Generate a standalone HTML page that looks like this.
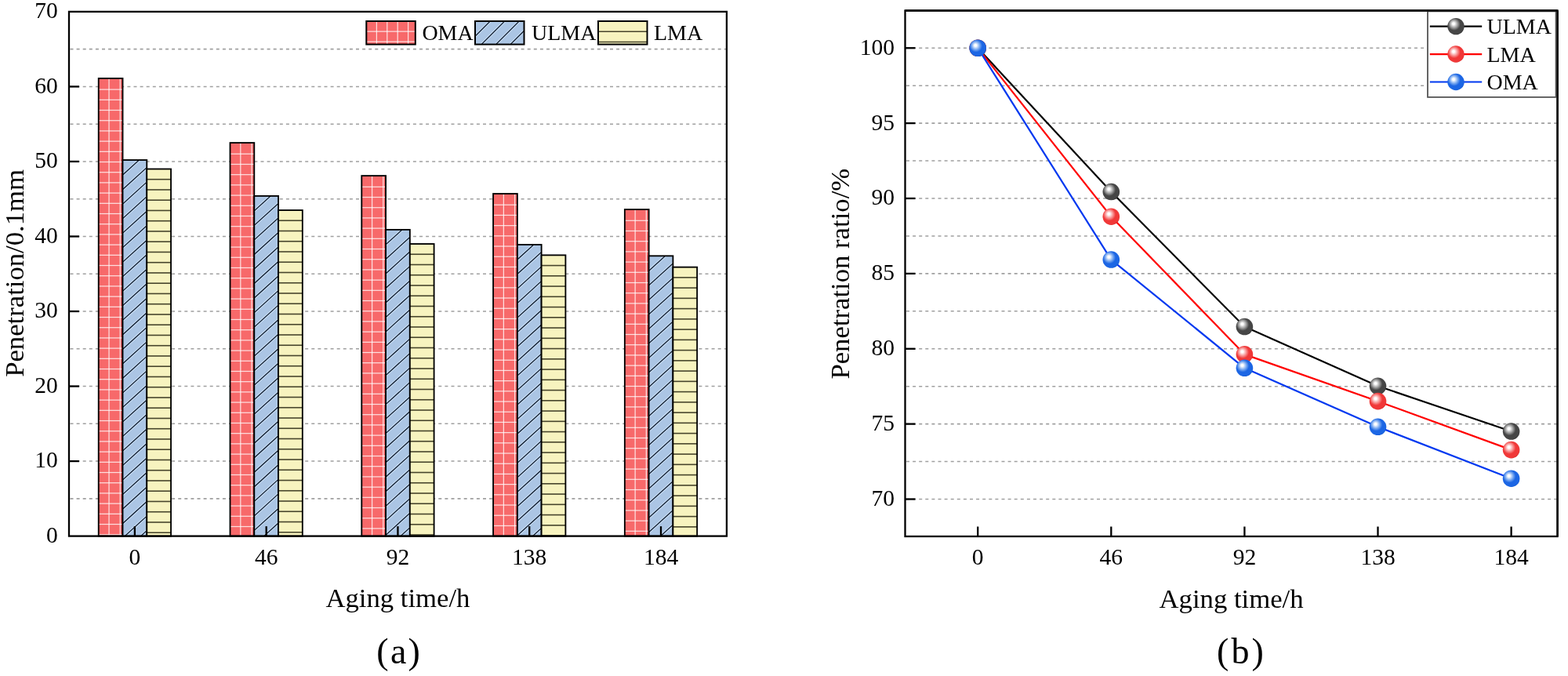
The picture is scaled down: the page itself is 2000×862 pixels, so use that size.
<!DOCTYPE html>
<html><head><meta charset="utf-8"><title>Penetration charts</title>
<style>html,body{margin:0;padding:0;background:#fff;}svg{display:block;}</style></head>
<body>
<svg width="2000" height="862" viewBox="0 0 2000 862"><defs><radialGradient id="gk" cx="0.42" cy="0.40" r="0.62" fx="0.355" fy="0.335"><stop offset="0" stop-color="#ffffff"/><stop offset="0.1" stop-color="#ffffff"/><stop offset="0.38" stop-color="#9a9a9a"/><stop offset="0.6" stop-color="#464646"/><stop offset="0.92" stop-color="#464646"/><stop offset="1" stop-color="#343434"/></radialGradient><radialGradient id="gr" cx="0.42" cy="0.40" r="0.62" fx="0.355" fy="0.335"><stop offset="0" stop-color="#ffffff"/><stop offset="0.1" stop-color="#ffffff"/><stop offset="0.38" stop-color="#f89090"/><stop offset="0.6" stop-color="#f03838"/><stop offset="0.92" stop-color="#f03838"/><stop offset="1" stop-color="#dc2a2a"/></radialGradient><radialGradient id="gb" cx="0.42" cy="0.40" r="0.62" fx="0.355" fy="0.335"><stop offset="0" stop-color="#ffffff"/><stop offset="0.1" stop-color="#ffffff"/><stop offset="0.38" stop-color="#78a8f0"/><stop offset="0.6" stop-color="#1c66e4"/><stop offset="0.92" stop-color="#1c66e4"/><stop offset="1" stop-color="#0f56d2"/></radialGradient></defs><rect width="2000" height="862" fill="#fff"/><line x1="89.5" y1="635.84" x2="925.9" y2="635.84" stroke="#a0a0a0" stroke-width="1.6" stroke-dasharray="4 4.1"/>
<line x1="89.5" y1="588.07" x2="925.9" y2="588.07" stroke="#a0a0a0" stroke-width="1.6" stroke-dasharray="4 4.1"/>
<line x1="89.5" y1="540.31" x2="925.9" y2="540.31" stroke="#a0a0a0" stroke-width="1.6" stroke-dasharray="4 4.1"/>
<line x1="89.5" y1="492.54" x2="925.9" y2="492.54" stroke="#a0a0a0" stroke-width="1.6" stroke-dasharray="4 4.1"/>
<line x1="89.5" y1="444.78" x2="925.9" y2="444.78" stroke="#a0a0a0" stroke-width="1.6" stroke-dasharray="4 4.1"/>
<line x1="89.5" y1="397.01" x2="925.9" y2="397.01" stroke="#a0a0a0" stroke-width="1.6" stroke-dasharray="4 4.1"/>
<line x1="89.5" y1="349.25" x2="925.9" y2="349.25" stroke="#a0a0a0" stroke-width="1.6" stroke-dasharray="4 4.1"/>
<line x1="89.5" y1="301.49" x2="925.9" y2="301.49" stroke="#a0a0a0" stroke-width="1.6" stroke-dasharray="4 4.1"/>
<line x1="89.5" y1="253.72" x2="925.9" y2="253.72" stroke="#a0a0a0" stroke-width="1.6" stroke-dasharray="4 4.1"/>
<line x1="89.5" y1="205.96" x2="925.9" y2="205.96" stroke="#a0a0a0" stroke-width="1.6" stroke-dasharray="4 4.1"/>
<line x1="89.5" y1="158.19" x2="925.9" y2="158.19" stroke="#a0a0a0" stroke-width="1.6" stroke-dasharray="4 4.1"/>
<line x1="89.5" y1="110.43" x2="925.9" y2="110.43" stroke="#a0a0a0" stroke-width="1.6" stroke-dasharray="4 4.1"/>
<line x1="89.5" y1="62.66" x2="925.9" y2="62.66" stroke="#a0a0a0" stroke-width="1.6" stroke-dasharray="4 4.1"/>
<rect x="125.73" y="99.92" width="30.77" height="583.68" fill="#f7696a"/>
<line x1="139.03" y1="99.92" x2="139.03" y2="683.60" stroke="#fff" stroke-opacity="0.78" stroke-width="1.25"/>
<line x1="153.23" y1="99.92" x2="153.23" y2="683.60" stroke="#fff" stroke-opacity="0.78" stroke-width="1.25"/>
<line x1="125.73" y1="114.12" x2="156.50" y2="114.12" stroke="#fff" stroke-opacity="0.78" stroke-width="1.25"/>
<line x1="125.73" y1="127.32" x2="156.50" y2="127.32" stroke="#fff" stroke-opacity="0.78" stroke-width="1.25"/>
<line x1="125.73" y1="140.52" x2="156.50" y2="140.52" stroke="#fff" stroke-opacity="0.78" stroke-width="1.25"/>
<line x1="125.73" y1="153.72" x2="156.50" y2="153.72" stroke="#fff" stroke-opacity="0.78" stroke-width="1.25"/>
<line x1="125.73" y1="166.92" x2="156.50" y2="166.92" stroke="#fff" stroke-opacity="0.78" stroke-width="1.25"/>
<line x1="125.73" y1="180.12" x2="156.50" y2="180.12" stroke="#fff" stroke-opacity="0.78" stroke-width="1.25"/>
<line x1="125.73" y1="193.32" x2="156.50" y2="193.32" stroke="#fff" stroke-opacity="0.78" stroke-width="1.25"/>
<line x1="125.73" y1="206.52" x2="156.50" y2="206.52" stroke="#fff" stroke-opacity="0.78" stroke-width="1.25"/>
<line x1="125.73" y1="219.72" x2="156.50" y2="219.72" stroke="#fff" stroke-opacity="0.78" stroke-width="1.25"/>
<line x1="125.73" y1="232.92" x2="156.50" y2="232.92" stroke="#fff" stroke-opacity="0.78" stroke-width="1.25"/>
<line x1="125.73" y1="246.12" x2="156.50" y2="246.12" stroke="#fff" stroke-opacity="0.78" stroke-width="1.25"/>
<line x1="125.73" y1="259.32" x2="156.50" y2="259.32" stroke="#fff" stroke-opacity="0.78" stroke-width="1.25"/>
<line x1="125.73" y1="272.52" x2="156.50" y2="272.52" stroke="#fff" stroke-opacity="0.78" stroke-width="1.25"/>
<line x1="125.73" y1="285.72" x2="156.50" y2="285.72" stroke="#fff" stroke-opacity="0.78" stroke-width="1.25"/>
<line x1="125.73" y1="298.92" x2="156.50" y2="298.92" stroke="#fff" stroke-opacity="0.78" stroke-width="1.25"/>
<line x1="125.73" y1="312.12" x2="156.50" y2="312.12" stroke="#fff" stroke-opacity="0.78" stroke-width="1.25"/>
<line x1="125.73" y1="325.32" x2="156.50" y2="325.32" stroke="#fff" stroke-opacity="0.78" stroke-width="1.25"/>
<line x1="125.73" y1="338.52" x2="156.50" y2="338.52" stroke="#fff" stroke-opacity="0.78" stroke-width="1.25"/>
<line x1="125.73" y1="351.72" x2="156.50" y2="351.72" stroke="#fff" stroke-opacity="0.78" stroke-width="1.25"/>
<line x1="125.73" y1="364.92" x2="156.50" y2="364.92" stroke="#fff" stroke-opacity="0.78" stroke-width="1.25"/>
<line x1="125.73" y1="378.12" x2="156.50" y2="378.12" stroke="#fff" stroke-opacity="0.78" stroke-width="1.25"/>
<line x1="125.73" y1="391.32" x2="156.50" y2="391.32" stroke="#fff" stroke-opacity="0.78" stroke-width="1.25"/>
<line x1="125.73" y1="404.52" x2="156.50" y2="404.52" stroke="#fff" stroke-opacity="0.78" stroke-width="1.25"/>
<line x1="125.73" y1="417.72" x2="156.50" y2="417.72" stroke="#fff" stroke-opacity="0.78" stroke-width="1.25"/>
<line x1="125.73" y1="430.92" x2="156.50" y2="430.92" stroke="#fff" stroke-opacity="0.78" stroke-width="1.25"/>
<line x1="125.73" y1="444.12" x2="156.50" y2="444.12" stroke="#fff" stroke-opacity="0.78" stroke-width="1.25"/>
<line x1="125.73" y1="457.32" x2="156.50" y2="457.32" stroke="#fff" stroke-opacity="0.78" stroke-width="1.25"/>
<line x1="125.73" y1="470.52" x2="156.50" y2="470.52" stroke="#fff" stroke-opacity="0.78" stroke-width="1.25"/>
<line x1="125.73" y1="483.72" x2="156.50" y2="483.72" stroke="#fff" stroke-opacity="0.78" stroke-width="1.25"/>
<line x1="125.73" y1="496.92" x2="156.50" y2="496.92" stroke="#fff" stroke-opacity="0.78" stroke-width="1.25"/>
<line x1="125.73" y1="510.12" x2="156.50" y2="510.12" stroke="#fff" stroke-opacity="0.78" stroke-width="1.25"/>
<line x1="125.73" y1="523.32" x2="156.50" y2="523.32" stroke="#fff" stroke-opacity="0.78" stroke-width="1.25"/>
<line x1="125.73" y1="536.52" x2="156.50" y2="536.52" stroke="#fff" stroke-opacity="0.78" stroke-width="1.25"/>
<line x1="125.73" y1="549.72" x2="156.50" y2="549.72" stroke="#fff" stroke-opacity="0.78" stroke-width="1.25"/>
<line x1="125.73" y1="562.92" x2="156.50" y2="562.92" stroke="#fff" stroke-opacity="0.78" stroke-width="1.25"/>
<line x1="125.73" y1="576.12" x2="156.50" y2="576.12" stroke="#fff" stroke-opacity="0.78" stroke-width="1.25"/>
<line x1="125.73" y1="589.32" x2="156.50" y2="589.32" stroke="#fff" stroke-opacity="0.78" stroke-width="1.25"/>
<line x1="125.73" y1="602.52" x2="156.50" y2="602.52" stroke="#fff" stroke-opacity="0.78" stroke-width="1.25"/>
<line x1="125.73" y1="615.72" x2="156.50" y2="615.72" stroke="#fff" stroke-opacity="0.78" stroke-width="1.25"/>
<line x1="125.73" y1="628.92" x2="156.50" y2="628.92" stroke="#fff" stroke-opacity="0.78" stroke-width="1.25"/>
<line x1="125.73" y1="642.12" x2="156.50" y2="642.12" stroke="#fff" stroke-opacity="0.78" stroke-width="1.25"/>
<line x1="125.73" y1="655.32" x2="156.50" y2="655.32" stroke="#fff" stroke-opacity="0.78" stroke-width="1.25"/>
<line x1="125.73" y1="668.52" x2="156.50" y2="668.52" stroke="#fff" stroke-opacity="0.78" stroke-width="1.25"/>
<line x1="125.73" y1="681.72" x2="156.50" y2="681.72" stroke="#fff" stroke-opacity="0.78" stroke-width="1.25"/>
<rect x="125.73" y="99.92" width="30.77" height="583.68" fill="none" stroke="#000" stroke-width="1.85"/>
<clipPath id="cULMA0"><rect x="156.50" y="204.05" width="30.77" height="479.55"/></clipPath>
<rect x="156.50" y="204.05" width="30.77" height="479.55" fill="#abc5e4"/>
<g clip-path="url(#cULMA0)" stroke="#cfe3f8" stroke-width="3.4"><line x1="155.50" y1="223.96" x2="188.28" y2="194.14"/><line x1="155.50" y1="242.48" x2="188.28" y2="212.66"/><line x1="155.50" y1="261.00" x2="188.28" y2="231.18"/><line x1="155.50" y1="279.52" x2="188.28" y2="249.70"/><line x1="155.50" y1="298.04" x2="188.28" y2="268.22"/><line x1="155.50" y1="316.56" x2="188.28" y2="286.74"/><line x1="155.50" y1="335.08" x2="188.28" y2="305.26"/><line x1="155.50" y1="353.60" x2="188.28" y2="323.78"/><line x1="155.50" y1="372.12" x2="188.28" y2="342.30"/><line x1="155.50" y1="390.64" x2="188.28" y2="360.82"/><line x1="155.50" y1="409.16" x2="188.28" y2="379.34"/><line x1="155.50" y1="427.68" x2="188.28" y2="397.86"/><line x1="155.50" y1="446.20" x2="188.28" y2="416.38"/><line x1="155.50" y1="464.72" x2="188.28" y2="434.90"/><line x1="155.50" y1="483.24" x2="188.28" y2="453.42"/><line x1="155.50" y1="501.76" x2="188.28" y2="471.94"/><line x1="155.50" y1="520.28" x2="188.28" y2="490.46"/><line x1="155.50" y1="538.80" x2="188.28" y2="508.98"/><line x1="155.50" y1="557.32" x2="188.28" y2="527.50"/><line x1="155.50" y1="575.84" x2="188.28" y2="546.02"/><line x1="155.50" y1="594.36" x2="188.28" y2="564.54"/><line x1="155.50" y1="612.88" x2="188.28" y2="583.06"/><line x1="155.50" y1="631.40" x2="188.28" y2="601.58"/><line x1="155.50" y1="649.92" x2="188.28" y2="620.10"/><line x1="155.50" y1="668.44" x2="188.28" y2="638.62"/><line x1="155.50" y1="686.96" x2="188.28" y2="657.14"/><line x1="155.50" y1="705.48" x2="188.28" y2="675.66"/></g>
<g clip-path="url(#cULMA0)" stroke="#0f1e33" stroke-width="1.35"><line x1="155.50" y1="223.96" x2="188.28" y2="194.14"/><line x1="155.50" y1="242.48" x2="188.28" y2="212.66"/><line x1="155.50" y1="261.00" x2="188.28" y2="231.18"/><line x1="155.50" y1="279.52" x2="188.28" y2="249.70"/><line x1="155.50" y1="298.04" x2="188.28" y2="268.22"/><line x1="155.50" y1="316.56" x2="188.28" y2="286.74"/><line x1="155.50" y1="335.08" x2="188.28" y2="305.26"/><line x1="155.50" y1="353.60" x2="188.28" y2="323.78"/><line x1="155.50" y1="372.12" x2="188.28" y2="342.30"/><line x1="155.50" y1="390.64" x2="188.28" y2="360.82"/><line x1="155.50" y1="409.16" x2="188.28" y2="379.34"/><line x1="155.50" y1="427.68" x2="188.28" y2="397.86"/><line x1="155.50" y1="446.20" x2="188.28" y2="416.38"/><line x1="155.50" y1="464.72" x2="188.28" y2="434.90"/><line x1="155.50" y1="483.24" x2="188.28" y2="453.42"/><line x1="155.50" y1="501.76" x2="188.28" y2="471.94"/><line x1="155.50" y1="520.28" x2="188.28" y2="490.46"/><line x1="155.50" y1="538.80" x2="188.28" y2="508.98"/><line x1="155.50" y1="557.32" x2="188.28" y2="527.50"/><line x1="155.50" y1="575.84" x2="188.28" y2="546.02"/><line x1="155.50" y1="594.36" x2="188.28" y2="564.54"/><line x1="155.50" y1="612.88" x2="188.28" y2="583.06"/><line x1="155.50" y1="631.40" x2="188.28" y2="601.58"/><line x1="155.50" y1="649.92" x2="188.28" y2="620.10"/><line x1="155.50" y1="668.44" x2="188.28" y2="638.62"/><line x1="155.50" y1="686.96" x2="188.28" y2="657.14"/><line x1="155.50" y1="705.48" x2="188.28" y2="675.66"/></g>
<rect x="156.50" y="204.05" width="30.77" height="479.55" fill="none" stroke="#000" stroke-width="1.85"/>
<rect x="187.27" y="215.51" width="30.77" height="468.09" fill="#f7f3bf"/>
<line x1="187.27" y1="228.71" x2="218.04" y2="228.71" stroke="#47452c" stroke-width="1.6"/>
<line x1="187.27" y1="241.96" x2="218.04" y2="241.96" stroke="#47452c" stroke-width="1.6"/>
<line x1="187.27" y1="255.21" x2="218.04" y2="255.21" stroke="#47452c" stroke-width="1.6"/>
<line x1="187.27" y1="268.46" x2="218.04" y2="268.46" stroke="#47452c" stroke-width="1.6"/>
<line x1="187.27" y1="281.71" x2="218.04" y2="281.71" stroke="#47452c" stroke-width="1.6"/>
<line x1="187.27" y1="294.96" x2="218.04" y2="294.96" stroke="#47452c" stroke-width="1.6"/>
<line x1="187.27" y1="308.21" x2="218.04" y2="308.21" stroke="#47452c" stroke-width="1.6"/>
<line x1="187.27" y1="321.46" x2="218.04" y2="321.46" stroke="#47452c" stroke-width="1.6"/>
<line x1="187.27" y1="334.71" x2="218.04" y2="334.71" stroke="#47452c" stroke-width="1.6"/>
<line x1="187.27" y1="347.96" x2="218.04" y2="347.96" stroke="#47452c" stroke-width="1.6"/>
<line x1="187.27" y1="361.21" x2="218.04" y2="361.21" stroke="#47452c" stroke-width="1.6"/>
<line x1="187.27" y1="374.46" x2="218.04" y2="374.46" stroke="#47452c" stroke-width="1.6"/>
<line x1="187.27" y1="387.71" x2="218.04" y2="387.71" stroke="#47452c" stroke-width="1.6"/>
<line x1="187.27" y1="400.96" x2="218.04" y2="400.96" stroke="#47452c" stroke-width="1.6"/>
<line x1="187.27" y1="414.21" x2="218.04" y2="414.21" stroke="#47452c" stroke-width="1.6"/>
<line x1="187.27" y1="427.46" x2="218.04" y2="427.46" stroke="#47452c" stroke-width="1.6"/>
<line x1="187.27" y1="440.71" x2="218.04" y2="440.71" stroke="#47452c" stroke-width="1.6"/>
<line x1="187.27" y1="453.96" x2="218.04" y2="453.96" stroke="#47452c" stroke-width="1.6"/>
<line x1="187.27" y1="467.21" x2="218.04" y2="467.21" stroke="#47452c" stroke-width="1.6"/>
<line x1="187.27" y1="480.46" x2="218.04" y2="480.46" stroke="#47452c" stroke-width="1.6"/>
<line x1="187.27" y1="493.71" x2="218.04" y2="493.71" stroke="#47452c" stroke-width="1.6"/>
<line x1="187.27" y1="506.96" x2="218.04" y2="506.96" stroke="#47452c" stroke-width="1.6"/>
<line x1="187.27" y1="520.21" x2="218.04" y2="520.21" stroke="#47452c" stroke-width="1.6"/>
<line x1="187.27" y1="533.46" x2="218.04" y2="533.46" stroke="#47452c" stroke-width="1.6"/>
<line x1="187.27" y1="546.71" x2="218.04" y2="546.71" stroke="#47452c" stroke-width="1.6"/>
<line x1="187.27" y1="559.96" x2="218.04" y2="559.96" stroke="#47452c" stroke-width="1.6"/>
<line x1="187.27" y1="573.21" x2="218.04" y2="573.21" stroke="#47452c" stroke-width="1.6"/>
<line x1="187.27" y1="586.46" x2="218.04" y2="586.46" stroke="#47452c" stroke-width="1.6"/>
<line x1="187.27" y1="599.71" x2="218.04" y2="599.71" stroke="#47452c" stroke-width="1.6"/>
<line x1="187.27" y1="612.96" x2="218.04" y2="612.96" stroke="#47452c" stroke-width="1.6"/>
<line x1="187.27" y1="626.21" x2="218.04" y2="626.21" stroke="#47452c" stroke-width="1.6"/>
<line x1="187.27" y1="639.46" x2="218.04" y2="639.46" stroke="#47452c" stroke-width="1.6"/>
<line x1="187.27" y1="652.71" x2="218.04" y2="652.71" stroke="#47452c" stroke-width="1.6"/>
<line x1="187.27" y1="665.96" x2="218.04" y2="665.96" stroke="#47452c" stroke-width="1.6"/>
<line x1="187.27" y1="679.21" x2="218.04" y2="679.21" stroke="#47452c" stroke-width="1.6"/>
<rect x="187.27" y="215.51" width="30.77" height="468.09" fill="none" stroke="#000" stroke-width="1.85"/>
<rect x="293.51" y="182.08" width="30.77" height="501.52" fill="#f7696a"/>
<line x1="306.81" y1="182.08" x2="306.81" y2="683.60" stroke="#fff" stroke-opacity="0.78" stroke-width="1.25"/>
<line x1="321.01" y1="182.08" x2="321.01" y2="683.60" stroke="#fff" stroke-opacity="0.78" stroke-width="1.25"/>
<line x1="293.51" y1="196.28" x2="324.28" y2="196.28" stroke="#fff" stroke-opacity="0.78" stroke-width="1.25"/>
<line x1="293.51" y1="209.48" x2="324.28" y2="209.48" stroke="#fff" stroke-opacity="0.78" stroke-width="1.25"/>
<line x1="293.51" y1="222.68" x2="324.28" y2="222.68" stroke="#fff" stroke-opacity="0.78" stroke-width="1.25"/>
<line x1="293.51" y1="235.88" x2="324.28" y2="235.88" stroke="#fff" stroke-opacity="0.78" stroke-width="1.25"/>
<line x1="293.51" y1="249.07" x2="324.28" y2="249.07" stroke="#fff" stroke-opacity="0.78" stroke-width="1.25"/>
<line x1="293.51" y1="262.27" x2="324.28" y2="262.27" stroke="#fff" stroke-opacity="0.78" stroke-width="1.25"/>
<line x1="293.51" y1="275.47" x2="324.28" y2="275.47" stroke="#fff" stroke-opacity="0.78" stroke-width="1.25"/>
<line x1="293.51" y1="288.67" x2="324.28" y2="288.67" stroke="#fff" stroke-opacity="0.78" stroke-width="1.25"/>
<line x1="293.51" y1="301.87" x2="324.28" y2="301.87" stroke="#fff" stroke-opacity="0.78" stroke-width="1.25"/>
<line x1="293.51" y1="315.07" x2="324.28" y2="315.07" stroke="#fff" stroke-opacity="0.78" stroke-width="1.25"/>
<line x1="293.51" y1="328.27" x2="324.28" y2="328.27" stroke="#fff" stroke-opacity="0.78" stroke-width="1.25"/>
<line x1="293.51" y1="341.47" x2="324.28" y2="341.47" stroke="#fff" stroke-opacity="0.78" stroke-width="1.25"/>
<line x1="293.51" y1="354.67" x2="324.28" y2="354.67" stroke="#fff" stroke-opacity="0.78" stroke-width="1.25"/>
<line x1="293.51" y1="367.87" x2="324.28" y2="367.87" stroke="#fff" stroke-opacity="0.78" stroke-width="1.25"/>
<line x1="293.51" y1="381.07" x2="324.28" y2="381.07" stroke="#fff" stroke-opacity="0.78" stroke-width="1.25"/>
<line x1="293.51" y1="394.27" x2="324.28" y2="394.27" stroke="#fff" stroke-opacity="0.78" stroke-width="1.25"/>
<line x1="293.51" y1="407.47" x2="324.28" y2="407.47" stroke="#fff" stroke-opacity="0.78" stroke-width="1.25"/>
<line x1="293.51" y1="420.67" x2="324.28" y2="420.67" stroke="#fff" stroke-opacity="0.78" stroke-width="1.25"/>
<line x1="293.51" y1="433.87" x2="324.28" y2="433.87" stroke="#fff" stroke-opacity="0.78" stroke-width="1.25"/>
<line x1="293.51" y1="447.07" x2="324.28" y2="447.07" stroke="#fff" stroke-opacity="0.78" stroke-width="1.25"/>
<line x1="293.51" y1="460.27" x2="324.28" y2="460.27" stroke="#fff" stroke-opacity="0.78" stroke-width="1.25"/>
<line x1="293.51" y1="473.47" x2="324.28" y2="473.47" stroke="#fff" stroke-opacity="0.78" stroke-width="1.25"/>
<line x1="293.51" y1="486.67" x2="324.28" y2="486.67" stroke="#fff" stroke-opacity="0.78" stroke-width="1.25"/>
<line x1="293.51" y1="499.87" x2="324.28" y2="499.87" stroke="#fff" stroke-opacity="0.78" stroke-width="1.25"/>
<line x1="293.51" y1="513.07" x2="324.28" y2="513.07" stroke="#fff" stroke-opacity="0.78" stroke-width="1.25"/>
<line x1="293.51" y1="526.27" x2="324.28" y2="526.27" stroke="#fff" stroke-opacity="0.78" stroke-width="1.25"/>
<line x1="293.51" y1="539.47" x2="324.28" y2="539.47" stroke="#fff" stroke-opacity="0.78" stroke-width="1.25"/>
<line x1="293.51" y1="552.67" x2="324.28" y2="552.67" stroke="#fff" stroke-opacity="0.78" stroke-width="1.25"/>
<line x1="293.51" y1="565.88" x2="324.28" y2="565.88" stroke="#fff" stroke-opacity="0.78" stroke-width="1.25"/>
<line x1="293.51" y1="579.08" x2="324.28" y2="579.08" stroke="#fff" stroke-opacity="0.78" stroke-width="1.25"/>
<line x1="293.51" y1="592.28" x2="324.28" y2="592.28" stroke="#fff" stroke-opacity="0.78" stroke-width="1.25"/>
<line x1="293.51" y1="605.48" x2="324.28" y2="605.48" stroke="#fff" stroke-opacity="0.78" stroke-width="1.25"/>
<line x1="293.51" y1="618.68" x2="324.28" y2="618.68" stroke="#fff" stroke-opacity="0.78" stroke-width="1.25"/>
<line x1="293.51" y1="631.88" x2="324.28" y2="631.88" stroke="#fff" stroke-opacity="0.78" stroke-width="1.25"/>
<line x1="293.51" y1="645.08" x2="324.28" y2="645.08" stroke="#fff" stroke-opacity="0.78" stroke-width="1.25"/>
<line x1="293.51" y1="658.28" x2="324.28" y2="658.28" stroke="#fff" stroke-opacity="0.78" stroke-width="1.25"/>
<line x1="293.51" y1="671.48" x2="324.28" y2="671.48" stroke="#fff" stroke-opacity="0.78" stroke-width="1.25"/>
<rect x="293.51" y="182.08" width="30.77" height="501.52" fill="none" stroke="#000" stroke-width="1.85"/>
<clipPath id="cULMA1"><rect x="324.28" y="249.90" width="30.77" height="433.70"/></clipPath>
<rect x="324.28" y="249.90" width="30.77" height="433.70" fill="#abc5e4"/>
<g clip-path="url(#cULMA1)" stroke="#cfe3f8" stroke-width="3.4"><line x1="323.28" y1="269.81" x2="356.05" y2="239.99"/><line x1="323.28" y1="288.33" x2="356.05" y2="258.51"/><line x1="323.28" y1="306.85" x2="356.05" y2="277.03"/><line x1="323.28" y1="325.37" x2="356.05" y2="295.55"/><line x1="323.28" y1="343.89" x2="356.05" y2="314.07"/><line x1="323.28" y1="362.41" x2="356.05" y2="332.59"/><line x1="323.28" y1="380.93" x2="356.05" y2="351.11"/><line x1="323.28" y1="399.45" x2="356.05" y2="369.63"/><line x1="323.28" y1="417.97" x2="356.05" y2="388.15"/><line x1="323.28" y1="436.49" x2="356.05" y2="406.67"/><line x1="323.28" y1="455.01" x2="356.05" y2="425.19"/><line x1="323.28" y1="473.53" x2="356.05" y2="443.71"/><line x1="323.28" y1="492.05" x2="356.05" y2="462.23"/><line x1="323.28" y1="510.57" x2="356.05" y2="480.75"/><line x1="323.28" y1="529.09" x2="356.05" y2="499.27"/><line x1="323.28" y1="547.61" x2="356.05" y2="517.79"/><line x1="323.28" y1="566.13" x2="356.05" y2="536.31"/><line x1="323.28" y1="584.65" x2="356.05" y2="554.83"/><line x1="323.28" y1="603.17" x2="356.05" y2="573.35"/><line x1="323.28" y1="621.69" x2="356.05" y2="591.87"/><line x1="323.28" y1="640.21" x2="356.05" y2="610.39"/><line x1="323.28" y1="658.73" x2="356.05" y2="628.91"/><line x1="323.28" y1="677.25" x2="356.05" y2="647.43"/><line x1="323.28" y1="695.77" x2="356.05" y2="665.95"/></g>
<g clip-path="url(#cULMA1)" stroke="#0f1e33" stroke-width="1.35"><line x1="323.28" y1="269.81" x2="356.05" y2="239.99"/><line x1="323.28" y1="288.33" x2="356.05" y2="258.51"/><line x1="323.28" y1="306.85" x2="356.05" y2="277.03"/><line x1="323.28" y1="325.37" x2="356.05" y2="295.55"/><line x1="323.28" y1="343.89" x2="356.05" y2="314.07"/><line x1="323.28" y1="362.41" x2="356.05" y2="332.59"/><line x1="323.28" y1="380.93" x2="356.05" y2="351.11"/><line x1="323.28" y1="399.45" x2="356.05" y2="369.63"/><line x1="323.28" y1="417.97" x2="356.05" y2="388.15"/><line x1="323.28" y1="436.49" x2="356.05" y2="406.67"/><line x1="323.28" y1="455.01" x2="356.05" y2="425.19"/><line x1="323.28" y1="473.53" x2="356.05" y2="443.71"/><line x1="323.28" y1="492.05" x2="356.05" y2="462.23"/><line x1="323.28" y1="510.57" x2="356.05" y2="480.75"/><line x1="323.28" y1="529.09" x2="356.05" y2="499.27"/><line x1="323.28" y1="547.61" x2="356.05" y2="517.79"/><line x1="323.28" y1="566.13" x2="356.05" y2="536.31"/><line x1="323.28" y1="584.65" x2="356.05" y2="554.83"/><line x1="323.28" y1="603.17" x2="356.05" y2="573.35"/><line x1="323.28" y1="621.69" x2="356.05" y2="591.87"/><line x1="323.28" y1="640.21" x2="356.05" y2="610.39"/><line x1="323.28" y1="658.73" x2="356.05" y2="628.91"/><line x1="323.28" y1="677.25" x2="356.05" y2="647.43"/><line x1="323.28" y1="695.77" x2="356.05" y2="665.95"/></g>
<rect x="324.28" y="249.90" width="30.77" height="433.70" fill="none" stroke="#000" stroke-width="1.85"/>
<rect x="355.06" y="268.05" width="30.77" height="415.55" fill="#f7f3bf"/>
<line x1="355.06" y1="281.25" x2="385.82" y2="281.25" stroke="#47452c" stroke-width="1.6"/>
<line x1="355.06" y1="294.50" x2="385.82" y2="294.50" stroke="#47452c" stroke-width="1.6"/>
<line x1="355.06" y1="307.75" x2="385.82" y2="307.75" stroke="#47452c" stroke-width="1.6"/>
<line x1="355.06" y1="321.00" x2="385.82" y2="321.00" stroke="#47452c" stroke-width="1.6"/>
<line x1="355.06" y1="334.25" x2="385.82" y2="334.25" stroke="#47452c" stroke-width="1.6"/>
<line x1="355.06" y1="347.50" x2="385.82" y2="347.50" stroke="#47452c" stroke-width="1.6"/>
<line x1="355.06" y1="360.75" x2="385.82" y2="360.75" stroke="#47452c" stroke-width="1.6"/>
<line x1="355.06" y1="374.00" x2="385.82" y2="374.00" stroke="#47452c" stroke-width="1.6"/>
<line x1="355.06" y1="387.25" x2="385.82" y2="387.25" stroke="#47452c" stroke-width="1.6"/>
<line x1="355.06" y1="400.50" x2="385.82" y2="400.50" stroke="#47452c" stroke-width="1.6"/>
<line x1="355.06" y1="413.75" x2="385.82" y2="413.75" stroke="#47452c" stroke-width="1.6"/>
<line x1="355.06" y1="427.00" x2="385.82" y2="427.00" stroke="#47452c" stroke-width="1.6"/>
<line x1="355.06" y1="440.25" x2="385.82" y2="440.25" stroke="#47452c" stroke-width="1.6"/>
<line x1="355.06" y1="453.50" x2="385.82" y2="453.50" stroke="#47452c" stroke-width="1.6"/>
<line x1="355.06" y1="466.75" x2="385.82" y2="466.75" stroke="#47452c" stroke-width="1.6"/>
<line x1="355.06" y1="480.00" x2="385.82" y2="480.00" stroke="#47452c" stroke-width="1.6"/>
<line x1="355.06" y1="493.25" x2="385.82" y2="493.25" stroke="#47452c" stroke-width="1.6"/>
<line x1="355.06" y1="506.50" x2="385.82" y2="506.50" stroke="#47452c" stroke-width="1.6"/>
<line x1="355.06" y1="519.75" x2="385.82" y2="519.75" stroke="#47452c" stroke-width="1.6"/>
<line x1="355.06" y1="533.00" x2="385.82" y2="533.00" stroke="#47452c" stroke-width="1.6"/>
<line x1="355.06" y1="546.25" x2="385.82" y2="546.25" stroke="#47452c" stroke-width="1.6"/>
<line x1="355.06" y1="559.50" x2="385.82" y2="559.50" stroke="#47452c" stroke-width="1.6"/>
<line x1="355.06" y1="572.75" x2="385.82" y2="572.75" stroke="#47452c" stroke-width="1.6"/>
<line x1="355.06" y1="586.00" x2="385.82" y2="586.00" stroke="#47452c" stroke-width="1.6"/>
<line x1="355.06" y1="599.25" x2="385.82" y2="599.25" stroke="#47452c" stroke-width="1.6"/>
<line x1="355.06" y1="612.50" x2="385.82" y2="612.50" stroke="#47452c" stroke-width="1.6"/>
<line x1="355.06" y1="625.75" x2="385.82" y2="625.75" stroke="#47452c" stroke-width="1.6"/>
<line x1="355.06" y1="639.00" x2="385.82" y2="639.00" stroke="#47452c" stroke-width="1.6"/>
<line x1="355.06" y1="652.25" x2="385.82" y2="652.25" stroke="#47452c" stroke-width="1.6"/>
<line x1="355.06" y1="665.50" x2="385.82" y2="665.50" stroke="#47452c" stroke-width="1.6"/>
<line x1="355.06" y1="678.75" x2="385.82" y2="678.75" stroke="#47452c" stroke-width="1.6"/>
<rect x="355.06" y="268.05" width="30.77" height="415.55" fill="none" stroke="#000" stroke-width="1.85"/>
<rect x="461.29" y="224.11" width="30.77" height="459.49" fill="#f7696a"/>
<line x1="474.59" y1="224.11" x2="474.59" y2="683.60" stroke="#fff" stroke-opacity="0.78" stroke-width="1.25"/>
<line x1="488.79" y1="224.11" x2="488.79" y2="683.60" stroke="#fff" stroke-opacity="0.78" stroke-width="1.25"/>
<line x1="461.29" y1="238.31" x2="492.06" y2="238.31" stroke="#fff" stroke-opacity="0.78" stroke-width="1.25"/>
<line x1="461.29" y1="251.51" x2="492.06" y2="251.51" stroke="#fff" stroke-opacity="0.78" stroke-width="1.25"/>
<line x1="461.29" y1="264.71" x2="492.06" y2="264.71" stroke="#fff" stroke-opacity="0.78" stroke-width="1.25"/>
<line x1="461.29" y1="277.91" x2="492.06" y2="277.91" stroke="#fff" stroke-opacity="0.78" stroke-width="1.25"/>
<line x1="461.29" y1="291.11" x2="492.06" y2="291.11" stroke="#fff" stroke-opacity="0.78" stroke-width="1.25"/>
<line x1="461.29" y1="304.31" x2="492.06" y2="304.31" stroke="#fff" stroke-opacity="0.78" stroke-width="1.25"/>
<line x1="461.29" y1="317.51" x2="492.06" y2="317.51" stroke="#fff" stroke-opacity="0.78" stroke-width="1.25"/>
<line x1="461.29" y1="330.71" x2="492.06" y2="330.71" stroke="#fff" stroke-opacity="0.78" stroke-width="1.25"/>
<line x1="461.29" y1="343.91" x2="492.06" y2="343.91" stroke="#fff" stroke-opacity="0.78" stroke-width="1.25"/>
<line x1="461.29" y1="357.11" x2="492.06" y2="357.11" stroke="#fff" stroke-opacity="0.78" stroke-width="1.25"/>
<line x1="461.29" y1="370.31" x2="492.06" y2="370.31" stroke="#fff" stroke-opacity="0.78" stroke-width="1.25"/>
<line x1="461.29" y1="383.51" x2="492.06" y2="383.51" stroke="#fff" stroke-opacity="0.78" stroke-width="1.25"/>
<line x1="461.29" y1="396.71" x2="492.06" y2="396.71" stroke="#fff" stroke-opacity="0.78" stroke-width="1.25"/>
<line x1="461.29" y1="409.91" x2="492.06" y2="409.91" stroke="#fff" stroke-opacity="0.78" stroke-width="1.25"/>
<line x1="461.29" y1="423.11" x2="492.06" y2="423.11" stroke="#fff" stroke-opacity="0.78" stroke-width="1.25"/>
<line x1="461.29" y1="436.31" x2="492.06" y2="436.31" stroke="#fff" stroke-opacity="0.78" stroke-width="1.25"/>
<line x1="461.29" y1="449.51" x2="492.06" y2="449.51" stroke="#fff" stroke-opacity="0.78" stroke-width="1.25"/>
<line x1="461.29" y1="462.71" x2="492.06" y2="462.71" stroke="#fff" stroke-opacity="0.78" stroke-width="1.25"/>
<line x1="461.29" y1="475.91" x2="492.06" y2="475.91" stroke="#fff" stroke-opacity="0.78" stroke-width="1.25"/>
<line x1="461.29" y1="489.11" x2="492.06" y2="489.11" stroke="#fff" stroke-opacity="0.78" stroke-width="1.25"/>
<line x1="461.29" y1="502.31" x2="492.06" y2="502.31" stroke="#fff" stroke-opacity="0.78" stroke-width="1.25"/>
<line x1="461.29" y1="515.51" x2="492.06" y2="515.51" stroke="#fff" stroke-opacity="0.78" stroke-width="1.25"/>
<line x1="461.29" y1="528.71" x2="492.06" y2="528.71" stroke="#fff" stroke-opacity="0.78" stroke-width="1.25"/>
<line x1="461.29" y1="541.91" x2="492.06" y2="541.91" stroke="#fff" stroke-opacity="0.78" stroke-width="1.25"/>
<line x1="461.29" y1="555.11" x2="492.06" y2="555.11" stroke="#fff" stroke-opacity="0.78" stroke-width="1.25"/>
<line x1="461.29" y1="568.31" x2="492.06" y2="568.31" stroke="#fff" stroke-opacity="0.78" stroke-width="1.25"/>
<line x1="461.29" y1="581.51" x2="492.06" y2="581.51" stroke="#fff" stroke-opacity="0.78" stroke-width="1.25"/>
<line x1="461.29" y1="594.71" x2="492.06" y2="594.71" stroke="#fff" stroke-opacity="0.78" stroke-width="1.25"/>
<line x1="461.29" y1="607.91" x2="492.06" y2="607.91" stroke="#fff" stroke-opacity="0.78" stroke-width="1.25"/>
<line x1="461.29" y1="621.11" x2="492.06" y2="621.11" stroke="#fff" stroke-opacity="0.78" stroke-width="1.25"/>
<line x1="461.29" y1="634.31" x2="492.06" y2="634.31" stroke="#fff" stroke-opacity="0.78" stroke-width="1.25"/>
<line x1="461.29" y1="647.51" x2="492.06" y2="647.51" stroke="#fff" stroke-opacity="0.78" stroke-width="1.25"/>
<line x1="461.29" y1="660.71" x2="492.06" y2="660.71" stroke="#fff" stroke-opacity="0.78" stroke-width="1.25"/>
<line x1="461.29" y1="673.91" x2="492.06" y2="673.91" stroke="#fff" stroke-opacity="0.78" stroke-width="1.25"/>
<rect x="461.29" y="224.11" width="30.77" height="459.49" fill="none" stroke="#000" stroke-width="1.85"/>
<clipPath id="cULMA2"><rect x="492.06" y="292.89" width="30.77" height="390.71"/></clipPath>
<rect x="492.06" y="292.89" width="30.77" height="390.71" fill="#abc5e4"/>
<g clip-path="url(#cULMA2)" stroke="#cfe3f8" stroke-width="3.4"><line x1="491.06" y1="312.80" x2="523.83" y2="282.98"/><line x1="491.06" y1="331.32" x2="523.83" y2="301.50"/><line x1="491.06" y1="349.84" x2="523.83" y2="320.02"/><line x1="491.06" y1="368.36" x2="523.83" y2="338.54"/><line x1="491.06" y1="386.88" x2="523.83" y2="357.06"/><line x1="491.06" y1="405.40" x2="523.83" y2="375.58"/><line x1="491.06" y1="423.92" x2="523.83" y2="394.10"/><line x1="491.06" y1="442.44" x2="523.83" y2="412.62"/><line x1="491.06" y1="460.96" x2="523.83" y2="431.14"/><line x1="491.06" y1="479.48" x2="523.83" y2="449.66"/><line x1="491.06" y1="498.00" x2="523.83" y2="468.18"/><line x1="491.06" y1="516.52" x2="523.83" y2="486.70"/><line x1="491.06" y1="535.04" x2="523.83" y2="505.22"/><line x1="491.06" y1="553.56" x2="523.83" y2="523.74"/><line x1="491.06" y1="572.08" x2="523.83" y2="542.26"/><line x1="491.06" y1="590.60" x2="523.83" y2="560.78"/><line x1="491.06" y1="609.12" x2="523.83" y2="579.30"/><line x1="491.06" y1="627.64" x2="523.83" y2="597.82"/><line x1="491.06" y1="646.16" x2="523.83" y2="616.34"/><line x1="491.06" y1="664.68" x2="523.83" y2="634.86"/><line x1="491.06" y1="683.20" x2="523.83" y2="653.38"/><line x1="491.06" y1="701.72" x2="523.83" y2="671.90"/></g>
<g clip-path="url(#cULMA2)" stroke="#0f1e33" stroke-width="1.35"><line x1="491.06" y1="312.80" x2="523.83" y2="282.98"/><line x1="491.06" y1="331.32" x2="523.83" y2="301.50"/><line x1="491.06" y1="349.84" x2="523.83" y2="320.02"/><line x1="491.06" y1="368.36" x2="523.83" y2="338.54"/><line x1="491.06" y1="386.88" x2="523.83" y2="357.06"/><line x1="491.06" y1="405.40" x2="523.83" y2="375.58"/><line x1="491.06" y1="423.92" x2="523.83" y2="394.10"/><line x1="491.06" y1="442.44" x2="523.83" y2="412.62"/><line x1="491.06" y1="460.96" x2="523.83" y2="431.14"/><line x1="491.06" y1="479.48" x2="523.83" y2="449.66"/><line x1="491.06" y1="498.00" x2="523.83" y2="468.18"/><line x1="491.06" y1="516.52" x2="523.83" y2="486.70"/><line x1="491.06" y1="535.04" x2="523.83" y2="505.22"/><line x1="491.06" y1="553.56" x2="523.83" y2="523.74"/><line x1="491.06" y1="572.08" x2="523.83" y2="542.26"/><line x1="491.06" y1="590.60" x2="523.83" y2="560.78"/><line x1="491.06" y1="609.12" x2="523.83" y2="579.30"/><line x1="491.06" y1="627.64" x2="523.83" y2="597.82"/><line x1="491.06" y1="646.16" x2="523.83" y2="616.34"/><line x1="491.06" y1="664.68" x2="523.83" y2="634.86"/><line x1="491.06" y1="683.20" x2="523.83" y2="653.38"/><line x1="491.06" y1="701.72" x2="523.83" y2="671.90"/></g>
<rect x="492.06" y="292.89" width="30.77" height="390.71" fill="none" stroke="#000" stroke-width="1.85"/>
<rect x="522.83" y="311.04" width="30.77" height="372.56" fill="#f7f3bf"/>
<line x1="522.83" y1="324.24" x2="553.60" y2="324.24" stroke="#47452c" stroke-width="1.6"/>
<line x1="522.83" y1="337.49" x2="553.60" y2="337.49" stroke="#47452c" stroke-width="1.6"/>
<line x1="522.83" y1="350.74" x2="553.60" y2="350.74" stroke="#47452c" stroke-width="1.6"/>
<line x1="522.83" y1="363.99" x2="553.60" y2="363.99" stroke="#47452c" stroke-width="1.6"/>
<line x1="522.83" y1="377.24" x2="553.60" y2="377.24" stroke="#47452c" stroke-width="1.6"/>
<line x1="522.83" y1="390.49" x2="553.60" y2="390.49" stroke="#47452c" stroke-width="1.6"/>
<line x1="522.83" y1="403.74" x2="553.60" y2="403.74" stroke="#47452c" stroke-width="1.6"/>
<line x1="522.83" y1="416.99" x2="553.60" y2="416.99" stroke="#47452c" stroke-width="1.6"/>
<line x1="522.83" y1="430.24" x2="553.60" y2="430.24" stroke="#47452c" stroke-width="1.6"/>
<line x1="522.83" y1="443.49" x2="553.60" y2="443.49" stroke="#47452c" stroke-width="1.6"/>
<line x1="522.83" y1="456.74" x2="553.60" y2="456.74" stroke="#47452c" stroke-width="1.6"/>
<line x1="522.83" y1="469.99" x2="553.60" y2="469.99" stroke="#47452c" stroke-width="1.6"/>
<line x1="522.83" y1="483.24" x2="553.60" y2="483.24" stroke="#47452c" stroke-width="1.6"/>
<line x1="522.83" y1="496.49" x2="553.60" y2="496.49" stroke="#47452c" stroke-width="1.6"/>
<line x1="522.83" y1="509.74" x2="553.60" y2="509.74" stroke="#47452c" stroke-width="1.6"/>
<line x1="522.83" y1="522.99" x2="553.60" y2="522.99" stroke="#47452c" stroke-width="1.6"/>
<line x1="522.83" y1="536.24" x2="553.60" y2="536.24" stroke="#47452c" stroke-width="1.6"/>
<line x1="522.83" y1="549.49" x2="553.60" y2="549.49" stroke="#47452c" stroke-width="1.6"/>
<line x1="522.83" y1="562.74" x2="553.60" y2="562.74" stroke="#47452c" stroke-width="1.6"/>
<line x1="522.83" y1="575.99" x2="553.60" y2="575.99" stroke="#47452c" stroke-width="1.6"/>
<line x1="522.83" y1="589.24" x2="553.60" y2="589.24" stroke="#47452c" stroke-width="1.6"/>
<line x1="522.83" y1="602.49" x2="553.60" y2="602.49" stroke="#47452c" stroke-width="1.6"/>
<line x1="522.83" y1="615.74" x2="553.60" y2="615.74" stroke="#47452c" stroke-width="1.6"/>
<line x1="522.83" y1="628.99" x2="553.60" y2="628.99" stroke="#47452c" stroke-width="1.6"/>
<line x1="522.83" y1="642.24" x2="553.60" y2="642.24" stroke="#47452c" stroke-width="1.6"/>
<line x1="522.83" y1="655.49" x2="553.60" y2="655.49" stroke="#47452c" stroke-width="1.6"/>
<line x1="522.83" y1="668.74" x2="553.60" y2="668.74" stroke="#47452c" stroke-width="1.6"/>
<line x1="522.83" y1="681.99" x2="553.60" y2="681.99" stroke="#47452c" stroke-width="1.6"/>
<rect x="522.83" y="311.04" width="30.77" height="372.56" fill="none" stroke="#000" stroke-width="1.85"/>
<rect x="629.08" y="247.03" width="30.77" height="436.57" fill="#f7696a"/>
<line x1="642.38" y1="247.03" x2="642.38" y2="683.60" stroke="#fff" stroke-opacity="0.78" stroke-width="1.25"/>
<line x1="656.58" y1="247.03" x2="656.58" y2="683.60" stroke="#fff" stroke-opacity="0.78" stroke-width="1.25"/>
<line x1="629.08" y1="261.23" x2="659.85" y2="261.23" stroke="#fff" stroke-opacity="0.78" stroke-width="1.25"/>
<line x1="629.08" y1="274.43" x2="659.85" y2="274.43" stroke="#fff" stroke-opacity="0.78" stroke-width="1.25"/>
<line x1="629.08" y1="287.63" x2="659.85" y2="287.63" stroke="#fff" stroke-opacity="0.78" stroke-width="1.25"/>
<line x1="629.08" y1="300.83" x2="659.85" y2="300.83" stroke="#fff" stroke-opacity="0.78" stroke-width="1.25"/>
<line x1="629.08" y1="314.03" x2="659.85" y2="314.03" stroke="#fff" stroke-opacity="0.78" stroke-width="1.25"/>
<line x1="629.08" y1="327.23" x2="659.85" y2="327.23" stroke="#fff" stroke-opacity="0.78" stroke-width="1.25"/>
<line x1="629.08" y1="340.43" x2="659.85" y2="340.43" stroke="#fff" stroke-opacity="0.78" stroke-width="1.25"/>
<line x1="629.08" y1="353.63" x2="659.85" y2="353.63" stroke="#fff" stroke-opacity="0.78" stroke-width="1.25"/>
<line x1="629.08" y1="366.83" x2="659.85" y2="366.83" stroke="#fff" stroke-opacity="0.78" stroke-width="1.25"/>
<line x1="629.08" y1="380.03" x2="659.85" y2="380.03" stroke="#fff" stroke-opacity="0.78" stroke-width="1.25"/>
<line x1="629.08" y1="393.23" x2="659.85" y2="393.23" stroke="#fff" stroke-opacity="0.78" stroke-width="1.25"/>
<line x1="629.08" y1="406.43" x2="659.85" y2="406.43" stroke="#fff" stroke-opacity="0.78" stroke-width="1.25"/>
<line x1="629.08" y1="419.63" x2="659.85" y2="419.63" stroke="#fff" stroke-opacity="0.78" stroke-width="1.25"/>
<line x1="629.08" y1="432.83" x2="659.85" y2="432.83" stroke="#fff" stroke-opacity="0.78" stroke-width="1.25"/>
<line x1="629.08" y1="446.03" x2="659.85" y2="446.03" stroke="#fff" stroke-opacity="0.78" stroke-width="1.25"/>
<line x1="629.08" y1="459.23" x2="659.85" y2="459.23" stroke="#fff" stroke-opacity="0.78" stroke-width="1.25"/>
<line x1="629.08" y1="472.43" x2="659.85" y2="472.43" stroke="#fff" stroke-opacity="0.78" stroke-width="1.25"/>
<line x1="629.08" y1="485.63" x2="659.85" y2="485.63" stroke="#fff" stroke-opacity="0.78" stroke-width="1.25"/>
<line x1="629.08" y1="498.83" x2="659.85" y2="498.83" stroke="#fff" stroke-opacity="0.78" stroke-width="1.25"/>
<line x1="629.08" y1="512.03" x2="659.85" y2="512.03" stroke="#fff" stroke-opacity="0.78" stroke-width="1.25"/>
<line x1="629.08" y1="525.23" x2="659.85" y2="525.23" stroke="#fff" stroke-opacity="0.78" stroke-width="1.25"/>
<line x1="629.08" y1="538.43" x2="659.85" y2="538.43" stroke="#fff" stroke-opacity="0.78" stroke-width="1.25"/>
<line x1="629.08" y1="551.63" x2="659.85" y2="551.63" stroke="#fff" stroke-opacity="0.78" stroke-width="1.25"/>
<line x1="629.08" y1="564.83" x2="659.85" y2="564.83" stroke="#fff" stroke-opacity="0.78" stroke-width="1.25"/>
<line x1="629.08" y1="578.03" x2="659.85" y2="578.03" stroke="#fff" stroke-opacity="0.78" stroke-width="1.25"/>
<line x1="629.08" y1="591.23" x2="659.85" y2="591.23" stroke="#fff" stroke-opacity="0.78" stroke-width="1.25"/>
<line x1="629.08" y1="604.43" x2="659.85" y2="604.43" stroke="#fff" stroke-opacity="0.78" stroke-width="1.25"/>
<line x1="629.08" y1="617.63" x2="659.85" y2="617.63" stroke="#fff" stroke-opacity="0.78" stroke-width="1.25"/>
<line x1="629.08" y1="630.83" x2="659.85" y2="630.83" stroke="#fff" stroke-opacity="0.78" stroke-width="1.25"/>
<line x1="629.08" y1="644.03" x2="659.85" y2="644.03" stroke="#fff" stroke-opacity="0.78" stroke-width="1.25"/>
<line x1="629.08" y1="657.23" x2="659.85" y2="657.23" stroke="#fff" stroke-opacity="0.78" stroke-width="1.25"/>
<line x1="629.08" y1="670.43" x2="659.85" y2="670.43" stroke="#fff" stroke-opacity="0.78" stroke-width="1.25"/>
<rect x="629.08" y="247.03" width="30.77" height="436.57" fill="none" stroke="#000" stroke-width="1.85"/>
<clipPath id="cULMA3"><rect x="659.85" y="311.99" width="30.77" height="371.61"/></clipPath>
<rect x="659.85" y="311.99" width="30.77" height="371.61" fill="#abc5e4"/>
<g clip-path="url(#cULMA3)" stroke="#cfe3f8" stroke-width="3.4"><line x1="658.85" y1="331.90" x2="691.62" y2="302.08"/><line x1="658.85" y1="350.42" x2="691.62" y2="320.60"/><line x1="658.85" y1="368.94" x2="691.62" y2="339.12"/><line x1="658.85" y1="387.46" x2="691.62" y2="357.64"/><line x1="658.85" y1="405.98" x2="691.62" y2="376.16"/><line x1="658.85" y1="424.50" x2="691.62" y2="394.68"/><line x1="658.85" y1="443.02" x2="691.62" y2="413.20"/><line x1="658.85" y1="461.54" x2="691.62" y2="431.72"/><line x1="658.85" y1="480.06" x2="691.62" y2="450.24"/><line x1="658.85" y1="498.58" x2="691.62" y2="468.76"/><line x1="658.85" y1="517.10" x2="691.62" y2="487.28"/><line x1="658.85" y1="535.62" x2="691.62" y2="505.80"/><line x1="658.85" y1="554.14" x2="691.62" y2="524.32"/><line x1="658.85" y1="572.66" x2="691.62" y2="542.84"/><line x1="658.85" y1="591.18" x2="691.62" y2="561.36"/><line x1="658.85" y1="609.70" x2="691.62" y2="579.88"/><line x1="658.85" y1="628.22" x2="691.62" y2="598.40"/><line x1="658.85" y1="646.74" x2="691.62" y2="616.92"/><line x1="658.85" y1="665.26" x2="691.62" y2="635.44"/><line x1="658.85" y1="683.78" x2="691.62" y2="653.96"/><line x1="658.85" y1="702.30" x2="691.62" y2="672.48"/></g>
<g clip-path="url(#cULMA3)" stroke="#0f1e33" stroke-width="1.35"><line x1="658.85" y1="331.90" x2="691.62" y2="302.08"/><line x1="658.85" y1="350.42" x2="691.62" y2="320.60"/><line x1="658.85" y1="368.94" x2="691.62" y2="339.12"/><line x1="658.85" y1="387.46" x2="691.62" y2="357.64"/><line x1="658.85" y1="405.98" x2="691.62" y2="376.16"/><line x1="658.85" y1="424.50" x2="691.62" y2="394.68"/><line x1="658.85" y1="443.02" x2="691.62" y2="413.20"/><line x1="658.85" y1="461.54" x2="691.62" y2="431.72"/><line x1="658.85" y1="480.06" x2="691.62" y2="450.24"/><line x1="658.85" y1="498.58" x2="691.62" y2="468.76"/><line x1="658.85" y1="517.10" x2="691.62" y2="487.28"/><line x1="658.85" y1="535.62" x2="691.62" y2="505.80"/><line x1="658.85" y1="554.14" x2="691.62" y2="524.32"/><line x1="658.85" y1="572.66" x2="691.62" y2="542.84"/><line x1="658.85" y1="591.18" x2="691.62" y2="561.36"/><line x1="658.85" y1="609.70" x2="691.62" y2="579.88"/><line x1="658.85" y1="628.22" x2="691.62" y2="598.40"/><line x1="658.85" y1="646.74" x2="691.62" y2="616.92"/><line x1="658.85" y1="665.26" x2="691.62" y2="635.44"/><line x1="658.85" y1="683.78" x2="691.62" y2="653.96"/><line x1="658.85" y1="702.30" x2="691.62" y2="672.48"/></g>
<rect x="659.85" y="311.99" width="30.77" height="371.61" fill="none" stroke="#000" stroke-width="1.85"/>
<rect x="690.62" y="325.37" width="30.77" height="358.23" fill="#f7f3bf"/>
<line x1="690.62" y1="338.57" x2="721.38" y2="338.57" stroke="#47452c" stroke-width="1.6"/>
<line x1="690.62" y1="351.82" x2="721.38" y2="351.82" stroke="#47452c" stroke-width="1.6"/>
<line x1="690.62" y1="365.07" x2="721.38" y2="365.07" stroke="#47452c" stroke-width="1.6"/>
<line x1="690.62" y1="378.32" x2="721.38" y2="378.32" stroke="#47452c" stroke-width="1.6"/>
<line x1="690.62" y1="391.57" x2="721.38" y2="391.57" stroke="#47452c" stroke-width="1.6"/>
<line x1="690.62" y1="404.82" x2="721.38" y2="404.82" stroke="#47452c" stroke-width="1.6"/>
<line x1="690.62" y1="418.07" x2="721.38" y2="418.07" stroke="#47452c" stroke-width="1.6"/>
<line x1="690.62" y1="431.32" x2="721.38" y2="431.32" stroke="#47452c" stroke-width="1.6"/>
<line x1="690.62" y1="444.57" x2="721.38" y2="444.57" stroke="#47452c" stroke-width="1.6"/>
<line x1="690.62" y1="457.82" x2="721.38" y2="457.82" stroke="#47452c" stroke-width="1.6"/>
<line x1="690.62" y1="471.07" x2="721.38" y2="471.07" stroke="#47452c" stroke-width="1.6"/>
<line x1="690.62" y1="484.32" x2="721.38" y2="484.32" stroke="#47452c" stroke-width="1.6"/>
<line x1="690.62" y1="497.57" x2="721.38" y2="497.57" stroke="#47452c" stroke-width="1.6"/>
<line x1="690.62" y1="510.82" x2="721.38" y2="510.82" stroke="#47452c" stroke-width="1.6"/>
<line x1="690.62" y1="524.07" x2="721.38" y2="524.07" stroke="#47452c" stroke-width="1.6"/>
<line x1="690.62" y1="537.32" x2="721.38" y2="537.32" stroke="#47452c" stroke-width="1.6"/>
<line x1="690.62" y1="550.57" x2="721.38" y2="550.57" stroke="#47452c" stroke-width="1.6"/>
<line x1="690.62" y1="563.82" x2="721.38" y2="563.82" stroke="#47452c" stroke-width="1.6"/>
<line x1="690.62" y1="577.07" x2="721.38" y2="577.07" stroke="#47452c" stroke-width="1.6"/>
<line x1="690.62" y1="590.32" x2="721.38" y2="590.32" stroke="#47452c" stroke-width="1.6"/>
<line x1="690.62" y1="603.57" x2="721.38" y2="603.57" stroke="#47452c" stroke-width="1.6"/>
<line x1="690.62" y1="616.82" x2="721.38" y2="616.82" stroke="#47452c" stroke-width="1.6"/>
<line x1="690.62" y1="630.07" x2="721.38" y2="630.07" stroke="#47452c" stroke-width="1.6"/>
<line x1="690.62" y1="643.32" x2="721.38" y2="643.32" stroke="#47452c" stroke-width="1.6"/>
<line x1="690.62" y1="656.57" x2="721.38" y2="656.57" stroke="#47452c" stroke-width="1.6"/>
<line x1="690.62" y1="669.82" x2="721.38" y2="669.82" stroke="#47452c" stroke-width="1.6"/>
<line x1="690.62" y1="683.07" x2="721.38" y2="683.07" stroke="#47452c" stroke-width="1.6"/>
<rect x="690.62" y="325.37" width="30.77" height="358.23" fill="none" stroke="#000" stroke-width="1.85"/>
<rect x="796.86" y="267.10" width="30.77" height="416.50" fill="#f7696a"/>
<line x1="810.15" y1="267.10" x2="810.15" y2="683.60" stroke="#fff" stroke-opacity="0.78" stroke-width="1.25"/>
<line x1="824.36" y1="267.10" x2="824.36" y2="683.60" stroke="#fff" stroke-opacity="0.78" stroke-width="1.25"/>
<line x1="796.86" y1="281.30" x2="827.62" y2="281.30" stroke="#fff" stroke-opacity="0.78" stroke-width="1.25"/>
<line x1="796.86" y1="294.50" x2="827.62" y2="294.50" stroke="#fff" stroke-opacity="0.78" stroke-width="1.25"/>
<line x1="796.86" y1="307.70" x2="827.62" y2="307.70" stroke="#fff" stroke-opacity="0.78" stroke-width="1.25"/>
<line x1="796.86" y1="320.90" x2="827.62" y2="320.90" stroke="#fff" stroke-opacity="0.78" stroke-width="1.25"/>
<line x1="796.86" y1="334.10" x2="827.62" y2="334.10" stroke="#fff" stroke-opacity="0.78" stroke-width="1.25"/>
<line x1="796.86" y1="347.30" x2="827.62" y2="347.30" stroke="#fff" stroke-opacity="0.78" stroke-width="1.25"/>
<line x1="796.86" y1="360.50" x2="827.62" y2="360.50" stroke="#fff" stroke-opacity="0.78" stroke-width="1.25"/>
<line x1="796.86" y1="373.70" x2="827.62" y2="373.70" stroke="#fff" stroke-opacity="0.78" stroke-width="1.25"/>
<line x1="796.86" y1="386.90" x2="827.62" y2="386.90" stroke="#fff" stroke-opacity="0.78" stroke-width="1.25"/>
<line x1="796.86" y1="400.10" x2="827.62" y2="400.10" stroke="#fff" stroke-opacity="0.78" stroke-width="1.25"/>
<line x1="796.86" y1="413.30" x2="827.62" y2="413.30" stroke="#fff" stroke-opacity="0.78" stroke-width="1.25"/>
<line x1="796.86" y1="426.50" x2="827.62" y2="426.50" stroke="#fff" stroke-opacity="0.78" stroke-width="1.25"/>
<line x1="796.86" y1="439.70" x2="827.62" y2="439.70" stroke="#fff" stroke-opacity="0.78" stroke-width="1.25"/>
<line x1="796.86" y1="452.90" x2="827.62" y2="452.90" stroke="#fff" stroke-opacity="0.78" stroke-width="1.25"/>
<line x1="796.86" y1="466.10" x2="827.62" y2="466.10" stroke="#fff" stroke-opacity="0.78" stroke-width="1.25"/>
<line x1="796.86" y1="479.30" x2="827.62" y2="479.30" stroke="#fff" stroke-opacity="0.78" stroke-width="1.25"/>
<line x1="796.86" y1="492.50" x2="827.62" y2="492.50" stroke="#fff" stroke-opacity="0.78" stroke-width="1.25"/>
<line x1="796.86" y1="505.70" x2="827.62" y2="505.70" stroke="#fff" stroke-opacity="0.78" stroke-width="1.25"/>
<line x1="796.86" y1="518.90" x2="827.62" y2="518.90" stroke="#fff" stroke-opacity="0.78" stroke-width="1.25"/>
<line x1="796.86" y1="532.10" x2="827.62" y2="532.10" stroke="#fff" stroke-opacity="0.78" stroke-width="1.25"/>
<line x1="796.86" y1="545.30" x2="827.62" y2="545.30" stroke="#fff" stroke-opacity="0.78" stroke-width="1.25"/>
<line x1="796.86" y1="558.50" x2="827.62" y2="558.50" stroke="#fff" stroke-opacity="0.78" stroke-width="1.25"/>
<line x1="796.86" y1="571.70" x2="827.62" y2="571.70" stroke="#fff" stroke-opacity="0.78" stroke-width="1.25"/>
<line x1="796.86" y1="584.90" x2="827.62" y2="584.90" stroke="#fff" stroke-opacity="0.78" stroke-width="1.25"/>
<line x1="796.86" y1="598.10" x2="827.62" y2="598.10" stroke="#fff" stroke-opacity="0.78" stroke-width="1.25"/>
<line x1="796.86" y1="611.30" x2="827.62" y2="611.30" stroke="#fff" stroke-opacity="0.78" stroke-width="1.25"/>
<line x1="796.86" y1="624.50" x2="827.62" y2="624.50" stroke="#fff" stroke-opacity="0.78" stroke-width="1.25"/>
<line x1="796.86" y1="637.70" x2="827.62" y2="637.70" stroke="#fff" stroke-opacity="0.78" stroke-width="1.25"/>
<line x1="796.86" y1="650.90" x2="827.62" y2="650.90" stroke="#fff" stroke-opacity="0.78" stroke-width="1.25"/>
<line x1="796.86" y1="664.10" x2="827.62" y2="664.10" stroke="#fff" stroke-opacity="0.78" stroke-width="1.25"/>
<line x1="796.86" y1="677.30" x2="827.62" y2="677.30" stroke="#fff" stroke-opacity="0.78" stroke-width="1.25"/>
<rect x="796.86" y="267.10" width="30.77" height="416.50" fill="none" stroke="#000" stroke-width="1.85"/>
<clipPath id="cULMA4"><rect x="827.62" y="326.32" width="30.77" height="357.28"/></clipPath>
<rect x="827.62" y="326.32" width="30.77" height="357.28" fill="#abc5e4"/>
<g clip-path="url(#cULMA4)" stroke="#cfe3f8" stroke-width="3.4"><line x1="826.62" y1="346.23" x2="859.39" y2="316.41"/><line x1="826.62" y1="364.75" x2="859.39" y2="334.93"/><line x1="826.62" y1="383.27" x2="859.39" y2="353.45"/><line x1="826.62" y1="401.79" x2="859.39" y2="371.97"/><line x1="826.62" y1="420.31" x2="859.39" y2="390.49"/><line x1="826.62" y1="438.83" x2="859.39" y2="409.01"/><line x1="826.62" y1="457.35" x2="859.39" y2="427.53"/><line x1="826.62" y1="475.87" x2="859.39" y2="446.05"/><line x1="826.62" y1="494.39" x2="859.39" y2="464.57"/><line x1="826.62" y1="512.91" x2="859.39" y2="483.09"/><line x1="826.62" y1="531.43" x2="859.39" y2="501.61"/><line x1="826.62" y1="549.95" x2="859.39" y2="520.13"/><line x1="826.62" y1="568.47" x2="859.39" y2="538.65"/><line x1="826.62" y1="586.99" x2="859.39" y2="557.17"/><line x1="826.62" y1="605.51" x2="859.39" y2="575.69"/><line x1="826.62" y1="624.03" x2="859.39" y2="594.21"/><line x1="826.62" y1="642.55" x2="859.39" y2="612.73"/><line x1="826.62" y1="661.07" x2="859.39" y2="631.25"/><line x1="826.62" y1="679.59" x2="859.39" y2="649.77"/><line x1="826.62" y1="698.11" x2="859.39" y2="668.29"/></g>
<g clip-path="url(#cULMA4)" stroke="#0f1e33" stroke-width="1.35"><line x1="826.62" y1="346.23" x2="859.39" y2="316.41"/><line x1="826.62" y1="364.75" x2="859.39" y2="334.93"/><line x1="826.62" y1="383.27" x2="859.39" y2="353.45"/><line x1="826.62" y1="401.79" x2="859.39" y2="371.97"/><line x1="826.62" y1="420.31" x2="859.39" y2="390.49"/><line x1="826.62" y1="438.83" x2="859.39" y2="409.01"/><line x1="826.62" y1="457.35" x2="859.39" y2="427.53"/><line x1="826.62" y1="475.87" x2="859.39" y2="446.05"/><line x1="826.62" y1="494.39" x2="859.39" y2="464.57"/><line x1="826.62" y1="512.91" x2="859.39" y2="483.09"/><line x1="826.62" y1="531.43" x2="859.39" y2="501.61"/><line x1="826.62" y1="549.95" x2="859.39" y2="520.13"/><line x1="826.62" y1="568.47" x2="859.39" y2="538.65"/><line x1="826.62" y1="586.99" x2="859.39" y2="557.17"/><line x1="826.62" y1="605.51" x2="859.39" y2="575.69"/><line x1="826.62" y1="624.03" x2="859.39" y2="594.21"/><line x1="826.62" y1="642.55" x2="859.39" y2="612.73"/><line x1="826.62" y1="661.07" x2="859.39" y2="631.25"/><line x1="826.62" y1="679.59" x2="859.39" y2="649.77"/><line x1="826.62" y1="698.11" x2="859.39" y2="668.29"/></g>
<rect x="827.62" y="326.32" width="30.77" height="357.28" fill="none" stroke="#000" stroke-width="1.85"/>
<rect x="858.39" y="340.65" width="30.77" height="342.95" fill="#f7f3bf"/>
<line x1="858.39" y1="353.85" x2="889.16" y2="353.85" stroke="#47452c" stroke-width="1.6"/>
<line x1="858.39" y1="367.10" x2="889.16" y2="367.10" stroke="#47452c" stroke-width="1.6"/>
<line x1="858.39" y1="380.35" x2="889.16" y2="380.35" stroke="#47452c" stroke-width="1.6"/>
<line x1="858.39" y1="393.60" x2="889.16" y2="393.60" stroke="#47452c" stroke-width="1.6"/>
<line x1="858.39" y1="406.85" x2="889.16" y2="406.85" stroke="#47452c" stroke-width="1.6"/>
<line x1="858.39" y1="420.10" x2="889.16" y2="420.10" stroke="#47452c" stroke-width="1.6"/>
<line x1="858.39" y1="433.35" x2="889.16" y2="433.35" stroke="#47452c" stroke-width="1.6"/>
<line x1="858.39" y1="446.60" x2="889.16" y2="446.60" stroke="#47452c" stroke-width="1.6"/>
<line x1="858.39" y1="459.85" x2="889.16" y2="459.85" stroke="#47452c" stroke-width="1.6"/>
<line x1="858.39" y1="473.10" x2="889.16" y2="473.10" stroke="#47452c" stroke-width="1.6"/>
<line x1="858.39" y1="486.35" x2="889.16" y2="486.35" stroke="#47452c" stroke-width="1.6"/>
<line x1="858.39" y1="499.60" x2="889.16" y2="499.60" stroke="#47452c" stroke-width="1.6"/>
<line x1="858.39" y1="512.85" x2="889.16" y2="512.85" stroke="#47452c" stroke-width="1.6"/>
<line x1="858.39" y1="526.10" x2="889.16" y2="526.10" stroke="#47452c" stroke-width="1.6"/>
<line x1="858.39" y1="539.35" x2="889.16" y2="539.35" stroke="#47452c" stroke-width="1.6"/>
<line x1="858.39" y1="552.60" x2="889.16" y2="552.60" stroke="#47452c" stroke-width="1.6"/>
<line x1="858.39" y1="565.85" x2="889.16" y2="565.85" stroke="#47452c" stroke-width="1.6"/>
<line x1="858.39" y1="579.10" x2="889.16" y2="579.10" stroke="#47452c" stroke-width="1.6"/>
<line x1="858.39" y1="592.35" x2="889.16" y2="592.35" stroke="#47452c" stroke-width="1.6"/>
<line x1="858.39" y1="605.60" x2="889.16" y2="605.60" stroke="#47452c" stroke-width="1.6"/>
<line x1="858.39" y1="618.85" x2="889.16" y2="618.85" stroke="#47452c" stroke-width="1.6"/>
<line x1="858.39" y1="632.10" x2="889.16" y2="632.10" stroke="#47452c" stroke-width="1.6"/>
<line x1="858.39" y1="645.35" x2="889.16" y2="645.35" stroke="#47452c" stroke-width="1.6"/>
<line x1="858.39" y1="658.60" x2="889.16" y2="658.60" stroke="#47452c" stroke-width="1.6"/>
<line x1="858.39" y1="671.85" x2="889.16" y2="671.85" stroke="#47452c" stroke-width="1.6"/>
<rect x="858.39" y="340.65" width="30.77" height="342.95" fill="none" stroke="#000" stroke-width="1.85"/>
<rect x="467.30" y="27.00" width="62.50" height="29.60" fill="#f7696a"/>
<line x1="480.40" y1="27.00" x2="480.40" y2="56.60" stroke="#fff" stroke-opacity="0.78" stroke-width="1.25"/>
<line x1="493.80" y1="27.00" x2="493.80" y2="56.60" stroke="#fff" stroke-opacity="0.78" stroke-width="1.25"/>
<line x1="507.20" y1="27.00" x2="507.20" y2="56.60" stroke="#fff" stroke-opacity="0.78" stroke-width="1.25"/>
<line x1="520.60" y1="27.00" x2="520.60" y2="56.60" stroke="#fff" stroke-opacity="0.78" stroke-width="1.25"/>
<line x1="467.30" y1="40.00" x2="529.80" y2="40.00" stroke="#fff" stroke-opacity="0.78" stroke-width="1.25"/>
<line x1="467.30" y1="53.10" x2="529.80" y2="53.10" stroke="#fff" stroke-opacity="0.78" stroke-width="1.25"/>
<rect x="467.3" y="27" width="62.5" height="29.6" fill="none" stroke="#000" stroke-width="2"/>
<clipPath id="lgu"><rect x="606.00" y="27.00" width="62.50" height="29.60"/></clipPath>
<rect x="606.00" y="27.00" width="62.50" height="29.60" fill="#abc5e4"/>
<g clip-path="url(#lgu)" stroke="#cfe3f8" stroke-width="3.4"><line x1="605.00" y1="47.20" x2="669.50" y2="-17.30"/><line x1="605.00" y1="65.70" x2="669.50" y2="1.20"/><line x1="605.00" y1="84.20" x2="669.50" y2="19.70"/><line x1="605.00" y1="102.70" x2="669.50" y2="38.20"/></g>
<g clip-path="url(#lgu)" stroke="#0f1e33" stroke-width="1.35"><line x1="605.00" y1="47.20" x2="669.50" y2="-17.30"/><line x1="605.00" y1="65.70" x2="669.50" y2="1.20"/><line x1="605.00" y1="84.20" x2="669.50" y2="19.70"/><line x1="605.00" y1="102.70" x2="669.50" y2="38.20"/></g>
<rect x="606" y="27" width="62.5" height="29.6" fill="none" stroke="#000" stroke-width="2"/>
<rect x="763.00" y="27.00" width="62.50" height="29.60" fill="#f7f3bf"/>
<line x1="763.00" y1="40.20" x2="825.50" y2="40.20" stroke="#47452c" stroke-width="1.6"/>
<line x1="763.00" y1="53.45" x2="825.50" y2="53.45" stroke="#47452c" stroke-width="1.6"/>
<rect x="763.00" y="27.00" width="62.50" height="29.60" fill="none" stroke="#000" stroke-width="2"/>
<text x="538.4" y="51" font-size="28" font-family="Liberation Serif, Times New Roman, serif">OMA</text>
<text x="678.0" y="51" font-size="28" font-family="Liberation Serif, Times New Roman, serif">ULMA</text>
<text x="834.0" y="51" font-size="28" font-family="Liberation Serif, Times New Roman, serif">LMA</text>
<rect x="88.0" y="14.9" width="838.90" height="668.70" fill="none" stroke="#000" stroke-width="2.3"/>
<text x="73.7" y="692.00" font-size="29.5" text-anchor="end" font-family="Liberation Serif, Times New Roman, serif">0</text>
<line x1="88.0" y1="588.07" x2="101.0" y2="588.07" stroke="#000" stroke-width="2.3"/>
<text x="73.7" y="596.47" font-size="29.5" text-anchor="end" font-family="Liberation Serif, Times New Roman, serif">10</text>
<line x1="88.0" y1="492.54" x2="101.0" y2="492.54" stroke="#000" stroke-width="2.3"/>
<text x="73.7" y="500.94" font-size="29.5" text-anchor="end" font-family="Liberation Serif, Times New Roman, serif">20</text>
<line x1="88.0" y1="397.01" x2="101.0" y2="397.01" stroke="#000" stroke-width="2.3"/>
<text x="73.7" y="405.41" font-size="29.5" text-anchor="end" font-family="Liberation Serif, Times New Roman, serif">30</text>
<line x1="88.0" y1="301.49" x2="101.0" y2="301.49" stroke="#000" stroke-width="2.3"/>
<text x="73.7" y="309.89" font-size="29.5" text-anchor="end" font-family="Liberation Serif, Times New Roman, serif">40</text>
<line x1="88.0" y1="205.96" x2="101.0" y2="205.96" stroke="#000" stroke-width="2.3"/>
<text x="73.7" y="214.36" font-size="29.5" text-anchor="end" font-family="Liberation Serif, Times New Roman, serif">50</text>
<line x1="88.0" y1="110.43" x2="101.0" y2="110.43" stroke="#000" stroke-width="2.3"/>
<text x="73.7" y="118.83" font-size="29.5" text-anchor="end" font-family="Liberation Serif, Times New Roman, serif">60</text>
<text x="73.7" y="23.30" font-size="29.5" text-anchor="end" font-family="Liberation Serif, Times New Roman, serif">70</text>
<line x1="171.89" y1="683.6" x2="171.89" y2="671.1" stroke="#000" stroke-width="2.3"/>
<text x="171.89" y="720.3" font-size="29.5" text-anchor="middle" font-family="Liberation Serif, Times New Roman, serif">0</text>
<line x1="339.67" y1="683.6" x2="339.67" y2="671.1" stroke="#000" stroke-width="2.3"/>
<text x="339.67" y="720.3" font-size="29.5" text-anchor="middle" font-family="Liberation Serif, Times New Roman, serif">46</text>
<line x1="507.45" y1="683.6" x2="507.45" y2="671.1" stroke="#000" stroke-width="2.3"/>
<text x="507.45" y="720.3" font-size="29.5" text-anchor="middle" font-family="Liberation Serif, Times New Roman, serif">92</text>
<line x1="675.23" y1="683.6" x2="675.23" y2="671.1" stroke="#000" stroke-width="2.3"/>
<text x="675.23" y="720.3" font-size="29.5" text-anchor="middle" font-family="Liberation Serif, Times New Roman, serif">138</text>
<line x1="843.01" y1="683.6" x2="843.01" y2="671.1" stroke="#000" stroke-width="2.3"/>
<text x="843.01" y="720.3" font-size="29.5" text-anchor="middle" font-family="Liberation Serif, Times New Roman, serif">184</text>
<text x="507.45" y="774" font-size="34.7" text-anchor="middle" font-family="Liberation Serif, Times New Roman, serif">Aging time/h</text>
<text transform="translate(30.3,348.4) rotate(-90)" x="0" y="0" font-size="34.7" text-anchor="middle" font-family="Liberation Serif, Times New Roman, serif">Penetration/0.1mm</text>
<text x="509.2" y="846" font-size="46" letter-spacing="2.2" text-anchor="middle" font-family="Liberation Serif, Times New Roman, serif">(a)</text>
<line x1="1156.0" y1="636.50" x2="1985.6" y2="636.50" stroke="#a0a0a0" stroke-width="1.6" stroke-dasharray="4 4.1"/>
<line x1="1156.0" y1="588.56" x2="1985.6" y2="588.56" stroke="#a0a0a0" stroke-width="1.6" stroke-dasharray="4 4.1"/>
<line x1="1156.0" y1="540.62" x2="1985.6" y2="540.62" stroke="#a0a0a0" stroke-width="1.6" stroke-dasharray="4 4.1"/>
<line x1="1156.0" y1="492.69" x2="1985.6" y2="492.69" stroke="#a0a0a0" stroke-width="1.6" stroke-dasharray="4 4.1"/>
<line x1="1156.0" y1="444.75" x2="1985.6" y2="444.75" stroke="#a0a0a0" stroke-width="1.6" stroke-dasharray="4 4.1"/>
<line x1="1156.0" y1="396.81" x2="1985.6" y2="396.81" stroke="#a0a0a0" stroke-width="1.6" stroke-dasharray="4 4.1"/>
<line x1="1156.0" y1="348.88" x2="1985.6" y2="348.88" stroke="#a0a0a0" stroke-width="1.6" stroke-dasharray="4 4.1"/>
<line x1="1156.0" y1="300.94" x2="1985.6" y2="300.94" stroke="#a0a0a0" stroke-width="1.6" stroke-dasharray="4 4.1"/>
<line x1="1156.0" y1="253.00" x2="1985.6" y2="253.00" stroke="#a0a0a0" stroke-width="1.6" stroke-dasharray="4 4.1"/>
<line x1="1156.0" y1="205.06" x2="1985.6" y2="205.06" stroke="#a0a0a0" stroke-width="1.6" stroke-dasharray="4 4.1"/>
<line x1="1156.0" y1="157.12" x2="1985.6" y2="157.12" stroke="#a0a0a0" stroke-width="1.6" stroke-dasharray="4 4.1"/>
<line x1="1156.0" y1="109.19" x2="1820.0" y2="109.19" stroke="#a0a0a0" stroke-width="1.6" stroke-dasharray="4 4.1"/>
<line x1="1156.0" y1="61.25" x2="1820.0" y2="61.25" stroke="#a0a0a0" stroke-width="1.6" stroke-dasharray="4 4.1"/>
<polyline points="1247.20,61.25 1417.30,244.56 1587.40,416.56 1757.50,492.30 1927.60,550.02" fill="none" stroke="#000" stroke-width="2.2" stroke-linejoin="round"/>
<circle cx="1247.20" cy="61.25" r="10.8" fill="url(#gk)"/>
<circle cx="1417.30" cy="244.56" r="10.8" fill="url(#gk)"/>
<circle cx="1587.40" cy="416.56" r="10.8" fill="url(#gk)"/>
<circle cx="1757.50" cy="492.30" r="10.8" fill="url(#gk)"/>
<circle cx="1927.60" cy="550.02" r="10.8" fill="url(#gk)"/>
<polyline points="1247.20,61.25 1417.30,276.20 1587.40,451.84 1757.50,511.67 1927.60,573.61" fill="none" stroke="#ff0000" stroke-width="2.2" stroke-linejoin="round"/>
<circle cx="1247.20" cy="61.25" r="10.8" fill="url(#gr)"/>
<circle cx="1417.30" cy="276.20" r="10.8" fill="url(#gr)"/>
<circle cx="1587.40" cy="451.84" r="10.8" fill="url(#gr)"/>
<circle cx="1757.50" cy="511.67" r="10.8" fill="url(#gr)"/>
<circle cx="1927.60" cy="573.61" r="10.8" fill="url(#gr)"/>
<polyline points="1247.20,61.25 1417.30,331.04 1587.40,469.29 1757.50,544.27 1927.60,610.23" fill="none" stroke="#0038f0" stroke-width="2.2" stroke-linejoin="round"/>
<circle cx="1247.20" cy="61.25" r="10.8" fill="url(#gb)"/>
<circle cx="1417.30" cy="331.04" r="10.8" fill="url(#gb)"/>
<circle cx="1587.40" cy="469.29" r="10.8" fill="url(#gb)"/>
<circle cx="1757.50" cy="544.27" r="10.8" fill="url(#gb)"/>
<circle cx="1927.60" cy="610.23" r="10.8" fill="url(#gb)"/>
<rect x="1154.5" y="13.5" width="832.10" height="670.50" fill="none" stroke="#000" stroke-width="2.3"/>
<line x1="1154.5" y1="636.50" x2="1167.5" y2="636.50" stroke="#000" stroke-width="2.3"/>
<text x="1140.9" y="644.90" font-size="29.5" text-anchor="end" font-family="Liberation Serif, Times New Roman, serif">70</text>
<line x1="1154.5" y1="540.62" x2="1167.5" y2="540.62" stroke="#000" stroke-width="2.3"/>
<text x="1140.9" y="549.02" font-size="29.5" text-anchor="end" font-family="Liberation Serif, Times New Roman, serif">75</text>
<line x1="1154.5" y1="444.75" x2="1167.5" y2="444.75" stroke="#000" stroke-width="2.3"/>
<text x="1140.9" y="453.15" font-size="29.5" text-anchor="end" font-family="Liberation Serif, Times New Roman, serif">80</text>
<line x1="1154.5" y1="348.88" x2="1167.5" y2="348.88" stroke="#000" stroke-width="2.3"/>
<text x="1140.9" y="357.27" font-size="29.5" text-anchor="end" font-family="Liberation Serif, Times New Roman, serif">85</text>
<line x1="1154.5" y1="253.00" x2="1167.5" y2="253.00" stroke="#000" stroke-width="2.3"/>
<text x="1140.9" y="261.40" font-size="29.5" text-anchor="end" font-family="Liberation Serif, Times New Roman, serif">90</text>
<line x1="1154.5" y1="157.12" x2="1167.5" y2="157.12" stroke="#000" stroke-width="2.3"/>
<text x="1140.9" y="165.53" font-size="29.5" text-anchor="end" font-family="Liberation Serif, Times New Roman, serif">95</text>
<line x1="1154.5" y1="61.25" x2="1167.5" y2="61.25" stroke="#000" stroke-width="2.3"/>
<text x="1140.9" y="69.65" font-size="29.5" text-anchor="end" font-family="Liberation Serif, Times New Roman, serif">100</text>
<line x1="1247.20" y1="684.0" x2="1247.20" y2="671.5" stroke="#000" stroke-width="2.3"/>
<text x="1247.20" y="720.4" font-size="29.5" text-anchor="middle" font-family="Liberation Serif, Times New Roman, serif">0</text>
<line x1="1417.30" y1="684.0" x2="1417.30" y2="671.5" stroke="#000" stroke-width="2.3"/>
<text x="1417.30" y="720.4" font-size="29.5" text-anchor="middle" font-family="Liberation Serif, Times New Roman, serif">46</text>
<line x1="1587.40" y1="684.0" x2="1587.40" y2="671.5" stroke="#000" stroke-width="2.3"/>
<text x="1587.40" y="720.4" font-size="29.5" text-anchor="middle" font-family="Liberation Serif, Times New Roman, serif">92</text>
<line x1="1757.50" y1="684.0" x2="1757.50" y2="671.5" stroke="#000" stroke-width="2.3"/>
<text x="1757.50" y="720.4" font-size="29.5" text-anchor="middle" font-family="Liberation Serif, Times New Roman, serif">138</text>
<line x1="1927.60" y1="684.0" x2="1927.60" y2="671.5" stroke="#000" stroke-width="2.3"/>
<text x="1927.60" y="720.4" font-size="29.5" text-anchor="middle" font-family="Liberation Serif, Times New Roman, serif">184</text>
<text x="1570.55" y="774.5" font-size="34.7" text-anchor="middle" font-family="Liberation Serif, Times New Roman, serif">Aging time/h</text>
<text transform="translate(1083,349.2) rotate(-90)" x="0" y="0" font-size="34.7" text-anchor="middle" font-family="Liberation Serif, Times New Roman, serif">Penetration ratio/%</text>
<text x="1583.4" y="845.6" font-size="46" letter-spacing="3" text-anchor="middle" font-family="Liberation Serif, Times New Roman, serif">(b)</text>
<rect x="1821" y="14.4" width="163.6" height="109.5" fill="#fff" stroke="#555" stroke-width="1.8"/>
<line x1="1823.8" y1="33.60" x2="1890.2" y2="33.60" stroke="#000" stroke-width="2.2"/>
<circle cx="1857" cy="33.60" r="10.7" fill="url(#gk)"/>
<text x="1896.5" y="43.20" font-size="28" font-family="Liberation Serif, Times New Roman, serif">ULMA</text>
<line x1="1823.8" y1="69.05" x2="1890.2" y2="69.05" stroke="#ff0000" stroke-width="2.2"/>
<circle cx="1857" cy="69.05" r="10.7" fill="url(#gr)"/>
<text x="1896.5" y="78.65" font-size="28" font-family="Liberation Serif, Times New Roman, serif">LMA</text>
<line x1="1823.8" y1="104.50" x2="1890.2" y2="104.50" stroke="#0038f0" stroke-width="2.2"/>
<circle cx="1857" cy="104.50" r="10.7" fill="url(#gb)"/>
<text x="1896.5" y="114.10" font-size="28" font-family="Liberation Serif, Times New Roman, serif">OMA</text>
<line x1="1154.5" y1="13.5" x2="1986.6" y2="13.5" stroke="#000" stroke-width="2.3"/>
<line x1="1986.6" y1="13.5" x2="1986.6" y2="684.0" stroke="#000" stroke-width="2.3"/></svg>
</body></html>
